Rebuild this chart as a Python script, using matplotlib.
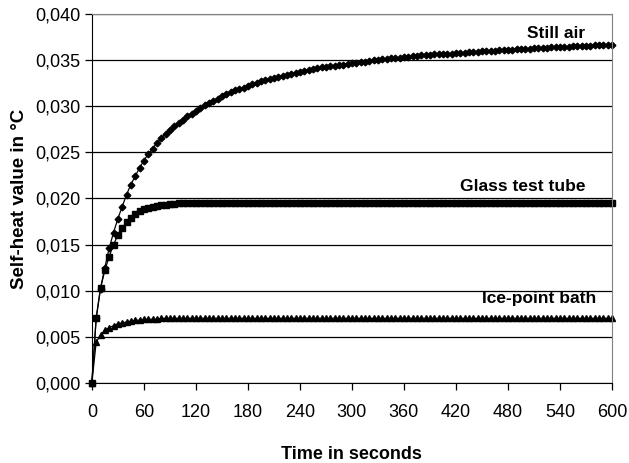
import matplotlib
matplotlib.use("Agg")
import matplotlib.pyplot as plt
from matplotlib.ticker import FuncFormatter

plt.rcParams['font.family'] = ['Liberation Sans', 'DejaVu Sans']

# tiempos (s), un punto cada 5 segundos
tiempo = list(range(0, 601, 5))

# aire quieto
still_air = [
    0.0000, 0.0070, 0.0102, 0.0125, 0.0146, 0.0163, 0.0178, 0.0191, 0.0204, 0.0215,
    0.0224, 0.0233, 0.0241, 0.0248, 0.0254, 0.0260, 0.0265, 0.0270, 0.0274, 0.0278,
    0.0282, 0.0285, 0.0289, 0.0292, 0.0295, 0.0298, 0.0301, 0.0303, 0.0306, 0.0308,
    0.0311, 0.0313, 0.0315, 0.0317, 0.0319, 0.0320, 0.0322, 0.0324, 0.0325, 0.0327,
    0.0328, 0.0329, 0.0331, 0.0332, 0.0333, 0.0334, 0.0335, 0.0336, 0.0337, 0.0338,
    0.0339, 0.0340, 0.0341, 0.0342, 0.0342, 0.0343, 0.0344, 0.0345, 0.0345, 0.0346,
    0.0347, 0.0347, 0.0348, 0.0348, 0.0349, 0.0350, 0.0350, 0.0351, 0.0351, 0.0352,
    0.0352, 0.0352, 0.0353, 0.0353, 0.0354, 0.0354, 0.0355, 0.0355, 0.0355, 0.0356,
    0.0356, 0.0357, 0.0357, 0.0357, 0.0358, 0.0358, 0.0358, 0.0359, 0.0359, 0.0359,
    0.0360, 0.0360, 0.0360, 0.0360, 0.0361, 0.0361, 0.0361, 0.0361, 0.0362, 0.0362,
    0.0362, 0.0362, 0.0363, 0.0363, 0.0363, 0.0363, 0.0364, 0.0364, 0.0364, 0.0364,
    0.0364, 0.0365, 0.0365, 0.0365, 0.0365, 0.0365, 0.0366, 0.0366, 0.0366, 0.0366,
    0.0366,
]

# tubo de ensayo de vidrio
glass_tube = [
    0.0000, 0.0070, 0.0103, 0.0122, 0.0137, 0.0150, 0.0160, 0.0168, 0.0174, 0.0179,
    0.0183, 0.0186, 0.0188, 0.0190, 0.0191, 0.0192, 0.0193, 0.0193, 0.0194, 0.0194,
    0.0195, 0.0195, 0.0195, 0.0195, 0.0195, 0.0195, 0.0195, 0.0195, 0.0195, 0.0195,
    0.0195, 0.0195, 0.0195, 0.0195, 0.0195, 0.0195, 0.0195, 0.0195, 0.0195, 0.0195,
    0.0195, 0.0195, 0.0195, 0.0195, 0.0195, 0.0195, 0.0195, 0.0195, 0.0195, 0.0195,
    0.0195, 0.0195, 0.0195, 0.0195, 0.0195, 0.0195, 0.0195, 0.0195, 0.0195, 0.0195,
    0.0195, 0.0195, 0.0195, 0.0195, 0.0195, 0.0195, 0.0195, 0.0195, 0.0195, 0.0195,
    0.0195, 0.0195, 0.0195, 0.0195, 0.0195, 0.0195, 0.0195, 0.0195, 0.0195, 0.0195,
    0.0195, 0.0195, 0.0195, 0.0195, 0.0195, 0.0195, 0.0195, 0.0195, 0.0195, 0.0195,
    0.0195, 0.0195, 0.0195, 0.0195, 0.0195, 0.0195, 0.0195, 0.0195, 0.0195, 0.0195,
    0.0195, 0.0195, 0.0195, 0.0195, 0.0195, 0.0195, 0.0195, 0.0195, 0.0195, 0.0195,
    0.0195, 0.0195, 0.0195, 0.0195, 0.0195, 0.0195, 0.0195, 0.0195, 0.0195, 0.0195,
    0.0195,
]

# baño de punto de hielo
ice_bath = [
    0.0000, 0.0044, 0.0052, 0.0057, 0.0060, 0.0062, 0.0064, 0.0065, 0.0066, 0.0067,
    0.0068, 0.0068, 0.0069, 0.0069, 0.0069, 0.0069, 0.0070, 0.0070, 0.0070, 0.0070,
    0.0070, 0.0070, 0.0070, 0.0070, 0.0070, 0.0070, 0.0070, 0.0070, 0.0070, 0.0070,
    0.0070, 0.0070, 0.0070, 0.0070, 0.0070, 0.0070, 0.0070, 0.0070, 0.0070, 0.0070,
    0.0070, 0.0070, 0.0070, 0.0070, 0.0070, 0.0070, 0.0070, 0.0070, 0.0070, 0.0070,
    0.0070, 0.0070, 0.0070, 0.0070, 0.0070, 0.0070, 0.0070, 0.0070, 0.0070, 0.0070,
    0.0070, 0.0070, 0.0070, 0.0070, 0.0070, 0.0070, 0.0070, 0.0070, 0.0070, 0.0070,
    0.0070, 0.0070, 0.0070, 0.0070, 0.0070, 0.0070, 0.0070, 0.0070, 0.0070, 0.0070,
    0.0070, 0.0070, 0.0070, 0.0070, 0.0070, 0.0070, 0.0070, 0.0070, 0.0070, 0.0070,
    0.0070, 0.0070, 0.0070, 0.0070, 0.0070, 0.0070, 0.0070, 0.0070, 0.0070, 0.0070,
    0.0070, 0.0070, 0.0070, 0.0070, 0.0070, 0.0070, 0.0070, 0.0070, 0.0070, 0.0070,
    0.0070, 0.0070, 0.0070, 0.0070, 0.0070, 0.0070, 0.0070, 0.0070, 0.0070, 0.0070,
    0.0070,
]

etiquetas = ["Still air", "Glass test tube", "Ice-point bath"]
pos_etiquetas = [(569, 0.0379), (569, 0.0213), (582, 0.0092)]

xticks = list(range(0, 601, 60))
yticks = [0.000, 0.005, 0.010, 0.015, 0.020, 0.025, 0.030, 0.035, 0.040]

fig = plt.figure(figsize=(6.29, 4.63), dpi=100)
ax = fig.add_axes([0.146, 0.173, 0.827, 0.797])

ax.plot(tiempo, still_air, "-", color="black", lw=0.9, marker="D", ms=3.4, clip_on=False)
ax.plot(tiempo, glass_tube, "-", color="black", lw=0.9, marker="s", ms=4.2, clip_on=False)
ax.plot(tiempo, ice_bath, "-", color="black", lw=0.9, marker="^", ms=4.4, clip_on=False)

for texto, (x, y) in zip(etiquetas, pos_etiquetas):
    ax.text(x, y, texto, ha="right", va="center", fontsize=12.5, fontweight="bold")

ax.set_xlim(0, 600)
ax.set_ylim(0, 0.040)
ax.set_xticks(xticks)
ax.set_yticks(yticks)
ax.yaxis.set_major_formatter(FuncFormatter(lambda v, p: ("%.3f" % v).replace(".", ",")))

ax.yaxis.grid(True, color="black", lw=0.9)
ax.set_axisbelow(True)
ax.spines["top"].set_color("#808080")
ax.spines["right"].set_color("#808080")
ax.tick_params(axis="both", direction="out", length=5, width=0.9, labelsize=13)
ax.tick_params(axis="x", pad=10)
ax.tick_params(axis="y", pad=3)

ax.set_xlabel("Time in seconds", fontsize=13, fontweight="bold", labelpad=18)
ax.set_ylabel("Self-heat value in °C", fontsize=13.5, fontweight="bold", labelpad=5)

fig.savefig("out.png", dpi=100)
